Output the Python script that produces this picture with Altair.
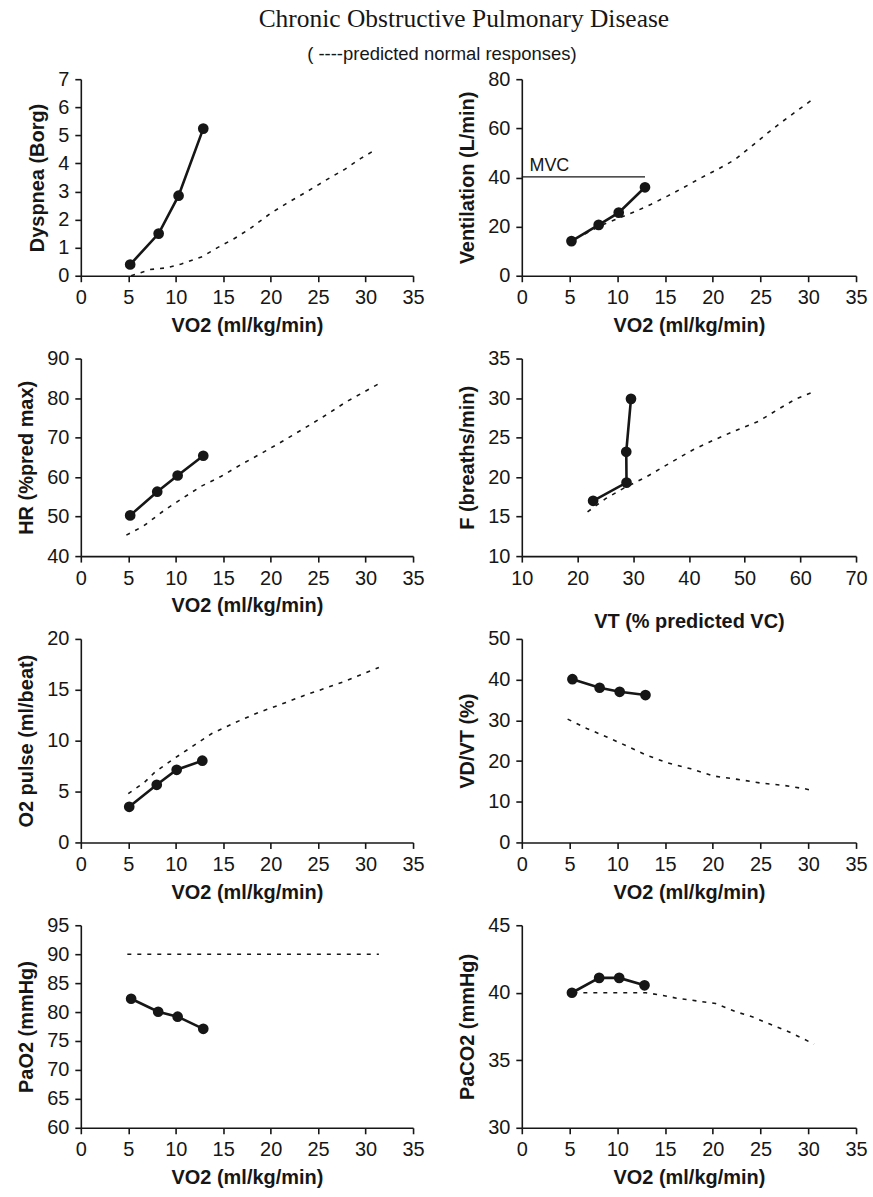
import altair as alt
import pandas as pd

# ---------------- data ----------------
# Panel 1: Dyspnea (Borg) vs VO2
dys_pat_x = [5.2, 8.2, 10.3, 12.9]
dys_pat_y = [0.4, 1.5, 2.85, 5.24]
dys_pred_x = [5.3, 7.3, 9.0, 10.6, 12.8, 14.4, 16.1, 17.8, 19.9, 21.6, 23.7, 25.7, 27.8, 29.5, 30.7]
dys_pred_y = [0.0, 0.22, 0.28, 0.42, 0.68, 1.0, 1.31, 1.67, 2.2, 2.56, 2.97, 3.38, 3.79, 4.18, 4.42]

# Panel 2: Ventilation (L/min) vs VO2
ve_pat_x = [5.2, 8.05, 10.15, 12.9]
ve_pat_y = [14.1, 20.7, 25.7, 36.0]
ve_pred_x = [6.6, 8.6, 10.2, 11.8, 13.5, 15.3, 17.0, 18.5, 20.5, 22.3, 24.0, 26.0, 27.2, 28.6, 30.7]
ve_pred_y = [17.0, 21.0, 23.5, 26.0, 29.0, 32.5, 36.0, 39.3, 43.3, 47.2, 52.5, 58.9, 62.5, 66.5, 72.5]
mvc_x = [0.0]
mvc_x2 = [12.9]
mvc_y = [40.2]
mvc_label = ["MVC"]
mvc_label_x = [0.8]
mvc_label_y = [41.0]

# Panel 3: HR (%pred max) vs VO2
hr_pat_x = [5.2, 8.05, 10.2, 12.9]
hr_pat_y = [50.3, 56.3, 60.4, 65.4]
hr_pred_x = [4.8, 6.6, 8.8, 10.5, 12.7, 14.8, 16.9, 19.1, 21.2, 23.3, 25.5, 28.0, 31.3]
hr_pred_y = [45.3, 47.6, 51.6, 54.3, 57.7, 60.2, 63.2, 66.1, 69.0, 72.0, 75.2, 79.1, 83.5]

# Panel 4: F (breaths/min) vs VT (% predicted VC)
f_pat_x = [22.8, 28.8, 28.75, 29.6]
f_pat_y = [17.0, 19.3, 23.2, 29.9]
f_pred_x = [21.8, 25.1, 28.7, 32.3, 36.4, 40.6, 44.2, 48.4, 52.6, 55.6, 59.1, 62.4]
f_pred_y = [15.6, 17.3, 18.75, 20.0, 21.7, 23.4, 24.6, 25.9, 27.1, 28.4, 29.85, 30.8]

# Panel 5: O2 pulse (ml/beat) vs VO2
o2_pat_x = [5.1, 8.0, 10.1, 12.8]
o2_pat_y = [3.5, 5.66, 7.14, 8.03]
o2_pred_x = [5.0, 6.7, 7.8, 9.6, 11.7, 13.8, 16.3, 18.8, 20.9, 23.4, 25.9, 28.0, 31.4]
o2_pred_y = [4.8, 5.9, 6.9, 8.1, 9.4, 10.7, 11.8, 12.8, 13.5, 14.4, 15.2, 15.9, 17.2]

# Panel 6: VD/VT (%) vs VO2
vd_pat_x = [5.3, 8.15, 10.25, 12.95]
vd_pat_y = [40.1, 38.0, 37.0, 36.2]
vd_pred_x = [4.8, 6.8, 8.9, 11.0, 13.1, 15.2, 17.7, 20.1, 22.6, 25.0, 27.5, 29.6, 30.6]
vd_pred_y = [30.3, 28.0, 25.9, 23.7, 21.4, 19.6, 18.1, 16.3, 15.5, 14.6, 14.0, 13.2, 12.7]

# Panel 7: PaO2 (mmHg) vs VO2
pao2_pat_x = [5.3, 8.15, 10.2, 12.9]
pao2_pat_y = [82.3, 80.05, 79.2, 77.1]
pao2_pred_x = [4.9, 31.4]
pao2_pred_y = [90.0, 90.0]

# Panel 8: PaCO2 (mmHg) vs VO2
paco2_pat_x = [5.25, 8.1, 10.2, 12.85]
paco2_pat_y = [40.0, 41.1, 41.1, 40.55]
paco2_pred_x = [5.4, 9.0, 13.0, 14.8, 16.2, 18.3, 20.3, 22.4, 24.2, 25.9, 28.0, 30.6]
paco2_pred_y = [40.0, 40.0, 40.0, 39.8, 39.6, 39.4, 39.2, 38.6, 38.2, 37.7, 37.1, 36.2]

VO2_TITLE = "VO2 (ml/kg/min)"
VO2_TICKS = [0, 5, 10, 15, 20, 25, 30, 35]

INK = "#161616"
SANS = "Liberation Sans"


def panel(pred_x, pred_y, pat_x, pat_y, xdom, xticks, ydom, yticks,
          xtitle, ytitle, width, height, xtitle_pad=8, extra=None):
    pred = pd.DataFrame({"x": pred_x, "y": pred_y})
    pat = pd.DataFrame({"x": pat_x, "y": pat_y, "i": list(range(len(pat_x)))})
    xenc = alt.X("x:Q", scale=alt.Scale(domain=xdom, nice=False, zero=False),
                 axis=alt.Axis(values=xticks, title=xtitle, titlePadding=xtitle_pad))
    yenc = alt.Y("y:Q", scale=alt.Scale(domain=ydom, nice=False, zero=False),
                 axis=alt.Axis(values=yticks, title=ytitle))
    dashed = alt.Chart(pred).mark_line(strokeDash=[4, 6], strokeWidth=1.6,
                                       color=INK).encode(x=xenc, y=yenc)
    line = alt.Chart(pat).mark_line(strokeWidth=2.6, color=INK).encode(
        x=xenc, y=yenc, order="i:Q")
    pts = alt.Chart(pat).mark_circle(size=115, color=INK, opacity=1).encode(
        x=xenc, y=yenc)
    layers = [dashed, line, pts]
    if extra:
        layers += extra
    return alt.layer(*layers).properties(width=width, height=height)


# MVC reference line and label for ventilation panel
mvc_df = pd.DataFrame({"x": mvc_x, "x2": mvc_x2, "y": mvc_y})
mvc_rule = alt.Chart(mvc_df).mark_rule(strokeWidth=1.2, color=INK).encode(
    x="x:Q", x2="x2:Q", y="y:Q")
mvc_txt_df = pd.DataFrame({"x": mvc_label_x, "y": mvc_label_y, "t": mvc_label})
mvc_text = alt.Chart(mvc_txt_df).mark_text(
    align="left", baseline="bottom", font=SANS, fontSize=18, color=INK
).encode(x="x:Q", y="y:Q", text="t:N")

WL, WR = 333, 335
H1, H2, H3, H4 = 197, 198, 204, 203

p1 = panel(dys_pred_x, dys_pred_y, dys_pat_x, dys_pat_y, [0, 35], VO2_TICKS,
           [0, 7], list(range(0, 8)), VO2_TITLE, "Dyspnea (Borg)", WL, H1)
p2 = panel(ve_pred_x, ve_pred_y, ve_pat_x, ve_pat_y, [0, 35], VO2_TICKS,
           [0, 80], [0, 20, 40, 60, 80], VO2_TITLE, "Ventilation (L/min)", WR, H1,
           extra=[mvc_rule, mvc_text])
p3 = panel(hr_pred_x, hr_pred_y, hr_pat_x, hr_pat_y, [0, 35], VO2_TICKS,
           [40, 90], [40, 50, 60, 70, 80, 90], VO2_TITLE, "HR (%pred max)", WL, H2)
p4 = panel(f_pred_x, f_pred_y, f_pat_x, f_pat_y, [10, 70], [10, 20, 30, 40, 50, 60, 70],
           [10, 35], [10, 15, 20, 25, 30, 35], "VT (% predicted VC)", "F (breaths/min)",
           WR, H2, xtitle_pad=24)
p5 = panel(o2_pred_x, o2_pred_y, o2_pat_x, o2_pat_y, [0, 35], VO2_TICKS,
           [0, 20], [0, 5, 10, 15, 20], VO2_TITLE, "O2 pulse (ml/beat)", WL, H3)
p6 = panel(vd_pred_x, vd_pred_y, vd_pat_x, vd_pat_y, [0, 35], VO2_TICKS,
           [0, 50], [0, 10, 20, 30, 40, 50], VO2_TITLE, "VD/VT (%)", WR, H3)
p7 = panel(pao2_pred_x, pao2_pred_y, pao2_pat_x, pao2_pat_y, [0, 35], VO2_TICKS,
           [60, 95], [60, 65, 70, 75, 80, 85, 90, 95], VO2_TITLE, "PaO2 (mmHg)", WL, H4)
p8 = panel(paco2_pred_x, paco2_pred_y, paco2_pat_x, paco2_pat_y, [0, 35], VO2_TICKS,
           [30, 45], [30, 35, 40, 45], VO2_TITLE, "PaCO2 (mmHg)", WR, H4)

grid = alt.concat(
    p1, p2, p3, p4, p5, p6, p7, p8,
    columns=2,
    spacing=alt.RowColnumber(row=83, column=109),
    bounds="flush",
    title=alt.TitleParams(
        text="( ----predicted normal responses)",
        font=SANS, fontSize=18.5, fontWeight="normal", color=INK,
        anchor="middle", offset=6,
    ),
)

chart = alt.vconcat(
    grid,
    title=alt.TitleParams(
        text="Chronic Obstructive Pulmonary Disease",
        font="Liberation Serif", fontSize=25.5, fontWeight="normal", color=INK,
        anchor="middle", dx=22, offset=12,
    ),
).properties(
    padding={"left": 16, "top": 6, "right": 5, "bottom": 5},
    background="white",
).configure_view(
    stroke=None
).configure_axis(
    grid=False,
    domainColor=INK, domainWidth=1.6,
    tickColor=INK, tickWidth=1.6, tickSize=6,
    labelFont=SANS, labelFontSize=20, labelColor=INK, labelPadding=6,
    labelFlush=False,
    titleFont=SANS, titleFontSize=20, titleFontWeight="bold", titleColor=INK,
    titlePadding=10,
)

chart.save("out.html", embed_options={"renderer": "svg", "actions": False})
